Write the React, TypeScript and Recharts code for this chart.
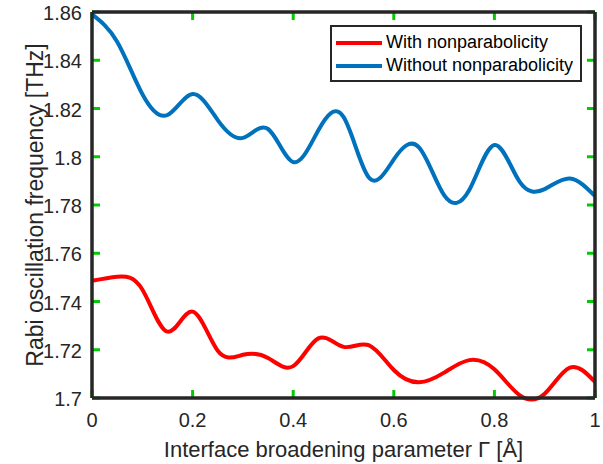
import React from "react";
import { LineChart, Line, XAxis, YAxis, Legend, ReferenceLine } from "recharts";

const gamma = [0, 0.05, 0.1, 0.15, 0.2, 0.25, 0.3, 0.35, 0.4, 0.45, 0.5, 0.55, 0.6, 0.65, 0.7, 0.75, 0.8, 0.85, 0.9, 0.95, 1];
const withNonparabolicity = [1.7486, 1.7503, 1.745, 1.7275, 1.7358, 1.7196, 1.7179, 1.7166, 1.7132, 1.7247, 1.7212, 1.7219, 1.7116, 1.7065, 1.7105, 1.7157, 1.7119, 1.7012, 1.7018, 1.7126, 1.7067];
const withoutNonparabolicity = [1.859, 1.8477, 1.826, 1.8173, 1.826, 1.8152, 1.8078, 1.8115, 1.7978, 1.811, 1.8165, 1.7915, 1.7989, 1.8039, 1.7841, 1.7862, 1.8049, 1.7897, 1.7866, 1.791, 1.7837];
const xTicks = [0, 0.2, 0.4, 0.6, 0.8, 1];
const yTicks = [1.7, 1.72, 1.74, 1.76, 1.78, 1.8, 1.82, 1.84, 1.86];

const data = gamma.map((g, i) => ({
  gamma: g,
  with: withNonparabolicity[i],
  without: withoutNonparabolicity[i],
}));

const FONT = '"Liberation Sans", Arial, Helvetica, sans-serif';
const AXIS = "#262626";
const TICK_COLOR = "#00cc00";
const W = 603;
const H = 464;
const LEFT_W = 92;
const RIGHT_W = 8;
const TOP_H = 12;
const BOTTOM_H = 66;
const TICK_LEN = 8;

const X_DOMAIN = [0, 1];
const Y_DOMAIN = [1.7, 1.86];

const axisLeft = LEFT_W;
const axisBottom = H - BOTTOM_H;
// inward tick length expressed in data units
const tickDx = ((X_DOMAIN[1] - X_DOMAIN[0]) * TICK_LEN) / (W - LEFT_W - RIGHT_W);
const tickDy = ((Y_DOMAIN[1] - Y_DOMAIN[0]) * TICK_LEN) / (H - TOP_H - BOTTOM_H);

const BottomTick = (props: any) => (
  <text x={props.x} y={axisBottom + 29} textAnchor="middle" fill={AXIS} fontSize={20} fontFamily={FONT}>
    {props.payload.value}
  </text>
);

const LeftTick = (props: any) => (
  <text x={axisLeft - 10} y={props.y + 8} textAnchor="end" fill={AXIS} fontSize={20} fontFamily={FONT}>
    {props.payload.value}
  </text>
);

const LegendBox = () => (
  <div
    style={{
      width: 244,
      border: `2px solid ${AXIS}`,
      background: "#ffffff",
      padding: "4px 0 3px 4px",
      fontFamily: FONT,
      fontSize: 18,
      color: "#000000",
      lineHeight: "23px",
    }}
  >
    {[
      { name: "With nonparabolicity", color: "#ff0000" },
      { name: "Without nonparabolicity", color: "#0072bd" },
    ].map((item) => (
      <div key={item.name} style={{ display: "flex", alignItems: "center" }}>
        <span style={{ display: "inline-block", width: 46, height: 4, background: item.color, marginRight: 4 }} />
        <span>{item.name}</span>
      </div>
    ))}
  </div>
);

export default function App() {
  return (
    <div style={{ position: "absolute", left: 0, top: 0, background: "#ffffff" }}>
      <LineChart width={W} height={H} data={data} margin={{ top: 0, right: 0, bottom: 0, left: 0 }}>
        <XAxis
          dataKey="gamma"
          type="number"
          domain={X_DOMAIN}
          ticks={xTicks}
          height={BOTTOM_H}
          axisLine={{ stroke: AXIS, strokeWidth: 3.5 }}
          tickLine={false}
          tick={<BottomTick />}
          label={{
            value: "Interface broadening parameter Γ [Å]",
            position: "insideBottom",
            offset: 7,
            fill: AXIS,
            fontSize: 22,
            fontFamily: FONT,
          }}
        />
        <XAxis
          xAxisId="top"
          orientation="top"
          dataKey="gamma"
          type="number"
          domain={X_DOMAIN}
          ticks={xTicks}
          height={TOP_H}
          axisLine={{ stroke: AXIS, strokeWidth: 3.5 }}
          tickLine={false}
          tick={false}
        />
        <YAxis
          type="number"
          domain={Y_DOMAIN}
          ticks={yTicks}
          width={LEFT_W}
          axisLine={{ stroke: AXIS, strokeWidth: 3.5 }}
          tickLine={false}
          tick={<LeftTick />}
          label={{
            value: "Rabi oscillation frequency [THz]",
            angle: -90,
            position: "insideLeft",
            offset: 35,
            fill: AXIS,
            fontSize: 23,
            fontFamily: FONT,
            style: { textAnchor: "middle" },
          }}
        />
        <YAxis
          yAxisId="right"
          orientation="right"
          type="number"
          domain={Y_DOMAIN}
          ticks={yTicks}
          width={RIGHT_W}
          axisLine={{ stroke: AXIS, strokeWidth: 3.5 }}
          tickLine={false}
          tick={false}
        />
        {/* inward tick marks on all four sides */}
        {xTicks.map((t) => (
          <ReferenceLine
            key={`b${t}`}
            segment={[{ x: t, y: Y_DOMAIN[0] }, { x: t, y: Y_DOMAIN[0] + tickDy }]}
            stroke={TICK_COLOR}
            strokeWidth={3}
            ifOverflow="visible"
          />
        ))}
        {xTicks.map((t) => (
          <ReferenceLine
            key={`t${t}`}
            segment={[{ x: t, y: Y_DOMAIN[1] }, { x: t, y: Y_DOMAIN[1] - tickDy }]}
            stroke={TICK_COLOR}
            strokeWidth={3}
            ifOverflow="visible"
          />
        ))}
        {yTicks.map((t) => (
          <ReferenceLine
            key={`l${t}`}
            segment={[{ x: X_DOMAIN[0], y: t }, { x: X_DOMAIN[0] + tickDx, y: t }]}
            stroke={TICK_COLOR}
            strokeWidth={3}
            ifOverflow="visible"
          />
        ))}
        {yTicks.map((t) => (
          <ReferenceLine
            key={`r${t}`}
            segment={[{ x: X_DOMAIN[1], y: t }, { x: X_DOMAIN[1] - tickDx, y: t }]}
            stroke={TICK_COLOR}
            strokeWidth={3}
            ifOverflow="visible"
          />
        ))}
        <Legend
          layout="vertical"
          align="center"
          verticalAlign="middle"
          content={() => <LegendBox />}
          wrapperStyle={{ left: 330, top: 25, width: 248 }}
        />
        <Line
          type="natural"
          dataKey="with"
          stroke="#ff0000"
          strokeWidth={4}
          dot={false}
          isAnimationActive={false}
        />
        <Line
          type="natural"
          dataKey="without"
          stroke="#0072bd"
          strokeWidth={4}
          dot={false}
          isAnimationActive={false}
        />
      </LineChart>
    </div>
  );
}
